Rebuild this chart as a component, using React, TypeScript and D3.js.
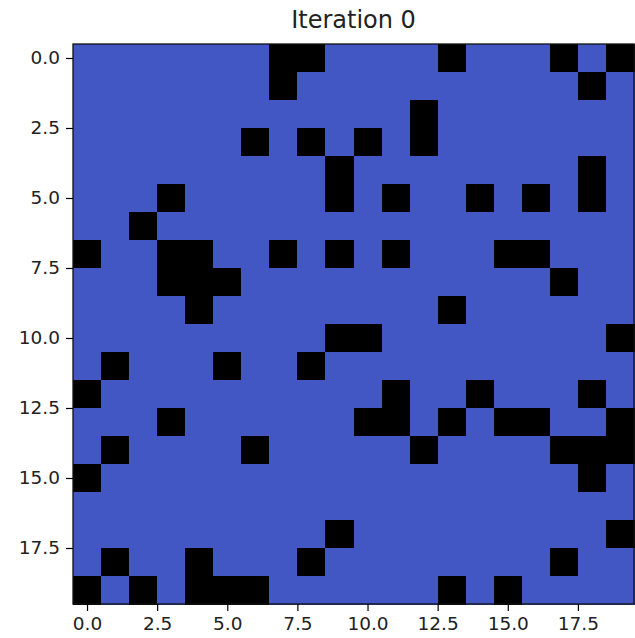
import React, { useRef, useEffect } from "react";
import { select, scaleLinear, scaleOrdinal, axisLeft, axisBottom, format } from "d3";

// alive (black) cells, listed by row: column indices
const aliveByRow: number[][] = [
  [7, 8, 13, 17, 19],
  [7, 18],
  [12],
  [6, 8, 10, 12],
  [9, 18],
  [3, 9, 11, 14, 16, 18],
  [2],
  [0, 3, 4, 7, 9, 11, 15, 16],
  [3, 4, 5, 17],
  [4, 13],
  [9, 10, 19],
  [1, 5, 8],
  [0, 11, 14, 18],
  [3, 10, 11, 13, 15, 16, 19],
  [1, 6, 12, 17, 18, 19],
  [0, 18],
  [],
  [9, 19],
  [1, 4, 8, 17],
  [0, 2, 4, 5, 6, 13, 15],
];
const gridSize = 20;
const tickValues = [0, 2.5, 5, 7.5, 10, 12.5, 15, 17.5];
const stateColors = ["#4256c4", "#000000"];
const title = "Iteration 0";

const W = 635;
const H = 638;
const left = 73;
const top = 44;
const right = 634;
const bottom = 604;

const App = () => {
  const svgRef = useRef<SVGSVGElement>(null);

  const cells: { r: number; c: number; v: number }[] = [];
  for (let r = 0; r < gridSize; r++) {
    for (let c = 0; c < gridSize; c++) {
      cells.push({ r, c, v: aliveByRow[r].includes(c) ? 1 : 0 });
    }
  }

  const xScale = scaleLinear().domain([-0.5, gridSize - 0.5]).range([left, right]);
  const yScale = scaleLinear().domain([-0.5, gridSize - 0.5]).range([top, bottom]);
  const color = scaleOrdinal<number, string>().domain([0, 1]).range(stateColors);

  useEffect(() => {
    const svg = select(svgRef.current);
    const fmt = format(".1f");
    const xAxis = axisBottom(xScale).tickValues(tickValues).tickFormat((d) => fmt(+d)).tickSizeOuter(0).tickSize(7).tickPadding(6);
    const yAxis = axisLeft(yScale).tickValues(tickValues).tickFormat((d) => fmt(+d)).tickSizeOuter(0).tickSize(7).tickPadding(6);
    svg.select<SVGGElement>(".x-axis").attr("transform", `translate(0,${bottom})`).call(xAxis);
    svg.select<SVGGElement>(".y-axis").attr("transform", `translate(${left},0)`).call(yAxis);
    svg.selectAll(".domain").remove();
    svg.selectAll(".tick text")
      .attr("font-family", "DejaVu Sans")
      .attr("font-size", 18.5)
      .attr("fill", "#222");
    svg.selectAll(".tick line").attr("stroke", "#000").attr("stroke-width", 1.2);
  }, []);

  return (
    <svg ref={svgRef} width={W} height={H} style={{ position: "absolute", left: 0, top: 0, background: "#fff" }}>
      <g shapeRendering="crispEdges">
        {cells.map((d) => (
          <rect
            key={`${d.r}-${d.c}`}
            x={xScale(d.c - 0.5)}
            y={yScale(d.r - 0.5)}
            width={xScale(d.c + 0.5) - xScale(d.c - 0.5) + 0.5}
            height={yScale(d.r + 0.5) - yScale(d.r - 0.5) + 0.5}
            fill={color(d.v)}
          />
        ))}
      </g>
      <rect x={left} y={top} width={right - left} height={bottom - top} fill="none" stroke="#111" strokeWidth={1.3} />
      <g className="x-axis" />
      <g className="y-axis" />
      <text x={(left + right) / 2} y={28} textAnchor="middle" fontFamily="DejaVu Sans" fontSize={24} fill="#222">
        {title}
      </text>
    </svg>
  );
};

export default App;
